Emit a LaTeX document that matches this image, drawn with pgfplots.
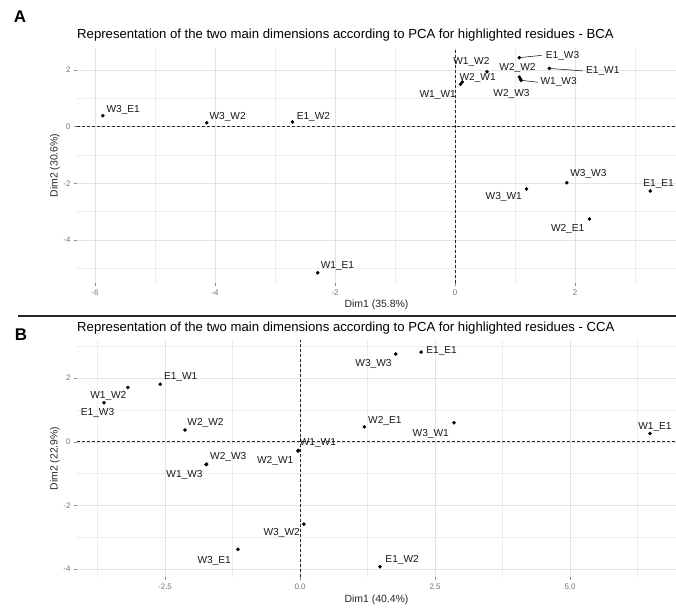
\documentclass[border=0pt]{standalone}
\usepackage{pgfplots}
\pgfplotsset{compat=1.18}
\usepackage{fontspec}
\setmainfont{Liberation Sans}
\pgfplotstableread{
x y
-5.87 0.39
-4.14 0.14
-2.71 0.17
-2.29 -5.16
0.09 1.50
0.12 1.58
0.53 1.94
1.07 1.75
1.09 1.68
1.10 1.64
1.07 2.44
1.57 2.06
1.19 -2.20
1.86 -1.98
2.24 -3.26
3.25 -2.27
}\dataA
\pgfplotstableread{
x y
-2.59 1.81
-3.19 1.71
-3.63 1.23
-2.13 0.37
-1.73 -0.70
-1.74 -0.72
-0.04 -0.29
-0.03 -0.27
0.07 -2.59
-1.15 -3.38
1.77 2.76
2.24 2.82
1.19 0.47
2.85 0.60
6.48 0.26
1.48 -3.93
}\dataB
\newcommand{\lbl}[3]{\node[lbl] at (axis cs:#1,#2) {#3};}
\tikzset{
  lbl/.style={font=\fontsize{10.2}{12}\selectfont, text=black!90, inner sep=0pt, anchor=center},
  zeroline/.style={black!85, line width=0.85bp, dash pattern=on 3bp off 2bp},
  dots/.style={only marks, mark=*, mark size=1.6bp, black},
}
\begin{document}
\begin{tikzpicture}
\useasboundingbox (0,0) rectangle (676bp,-609bp);
\pgfplotsset{
  pcastyle/.style={
    scale only axis, width=599bp, clip=false,
    axis line style={draw=none},
    grid=both,
    major grid style={black!11, line width=0.6bp},
    minor grid style={black!7, line width=0.5bp},
    tick align=outside, major tick length=3bp, minor tick length=0bp,
    tick style={black!45, line width=0.5bp},
    tick pos=left,
    ticklabel style={font=\fontsize{8}{9}\selectfont, text=black!55},
    /pgf/number format/assume math mode=true,
    label style={font=\fontsize{10.5}{12}\selectfont, text=black!85, inner sep=0pt, anchor=center},
  },
}
% panel labels and titles
\node[font=\fontsize{17}{18}\selectfont\bfseries, anchor=center] at (20bp,-17bp) {A};
\node[font=\fontsize{13.2}{14}\selectfont, anchor=west, inner sep=0pt] at (77bp,-35bp) {Representation of the two main dimensions according to PCA for highlighted residues - BCA};
\draw[line width=2.5bp, black!85] (18bp,-316bp) -- (676bp,-316bp);
\node[font=\fontsize{17}{18}\selectfont\bfseries, anchor=center] at (21bp,-335bp) {B};
\node[font=\fontsize{13.2}{14}\selectfont, anchor=west, inner sep=0pt] at (77bp,-328bp) {Representation of the two main dimensions according to PCA for highlighted residues - CCA};

\begin{axis}[pcastyle, height=235bp, at={(77bp,-283bp)}, anchor=south west,
  xmin=-6.3, xmax=3.68, ymin=-5.52, ymax=2.78,
  xtick={-6,-4,-2,0,2}, ytick={-4,-2,0,2},
  minor xtick={-5,-3,-1,1,3}, minor ytick={-5,-3,-1,1},
  xlabel={Dim1 (35.8\%)}, ylabel={Dim2 (30.6\%)},
  xlabel style={at={(axis description cs:0.5,-0.0936)}},
  ylabel style={at={(axis description cs:-0.0367,0.5)}}]
\addplot[zeroline] coordinates {(-6.3,0) (3.68,0)};
\addplot[zeroline] coordinates {(0,-5.52) (0,2.78)};
\addplot[black, line width=0.5bp] coordinates {(1.07,2.44) (1.44,2.52)};
\addplot[black, line width=0.5bp] coordinates {(1.57,2.06) (2.13,1.97)};
\addplot[black, line width=0.5bp] coordinates {(1.10,1.64) (1.38,1.57)};
\addplot[dots] table[x=x,y=y] {\dataA};
\lbl{-5.53}{0.59}{W3\_E1}
\lbl{-3.79}{0.34}{W3\_W2}
\lbl{-2.36}{0.34}{E1\_W2}
\lbl{-1.96}{-4.92}{W1\_E1}
\lbl{-0.29}{1.12}{W1\_W1}
\lbl{0.375}{1.71}{W2\_W1}
\lbl{0.27}{2.30}{W1\_W2}
\lbl{1.04}{2.08}{W2\_W2}
\lbl{0.94}{1.14}{W2\_W3}
\lbl{1.725}{1.57}{W1\_W3}
\lbl{1.79}{2.51}{E1\_W3}
\lbl{2.46}{1.97}{E1\_W1}
\lbl{0.81}{-2.49}{W3\_W1}
\lbl{2.22}{-1.67}{W3\_W3}
\lbl{1.875}{-3.61}{W2\_E1}
\lbl{3.39}{-2.04}{E1\_E1}
\end{axis}

\begin{axis}[pcastyle, height=237bp, at={(77bp,-577bp)}, anchor=south west,
  xmin=-4.13, xmax=6.96, ymin=-4.25, ymax=3.2,
  xtick={-2.5,0,2.5,5}, ytick={-4,-2,0,2},
  minor xtick={-3.75,-1.25,1.25,3.75,6.25}, minor ytick={-3,-1,1,3},
  xticklabel style={/pgf/number format/.cd, fixed, fixed zerofill, precision=1},
  xlabel={Dim1 (40.4\%)}, ylabel={Dim2 (22.9\%)},
  xlabel style={at={(axis description cs:0.5,-0.097)}},
  ylabel style={at={(axis description cs:-0.0367,0.5)}}]
\addplot[zeroline] coordinates {(-4.13,0) (6.96,0)};
\addplot[zeroline] coordinates {(0,-4.25) (0,3.2)};
\addplot[dots] table[x=x,y=y] {\dataB};
\lbl{-2.21}{2.03}{E1\_W1}
\lbl{-3.55}{1.44}{W1\_W2}
\lbl{-3.75}{0.91}{E1\_W3}
\lbl{-1.75}{0.60}{W2\_W2}
\lbl{-1.33}{-0.47}{W2\_W3}
\lbl{-2.14}{-1.03}{W1\_W3}
\lbl{-0.46}{-0.60}{W2\_W1}
\lbl{0.33}{-0.05}{W1\_W1}
\lbl{-0.34}{-2.88}{W3\_W2}
\lbl{-1.59}{-3.74}{W3\_E1}
\lbl{1.36}{2.44}{W3\_W3}
\lbl{2.62}{2.86}{E1\_E1}
\lbl{1.57}{0.66}{W2\_E1}
\lbl{2.42}{0.26}{W3\_W1}
\lbl{6.57}{0.47}{W1\_E1}
\lbl{1.89}{-3.72}{E1\_W2}
\end{axis}
\end{tikzpicture}
\end{document}
